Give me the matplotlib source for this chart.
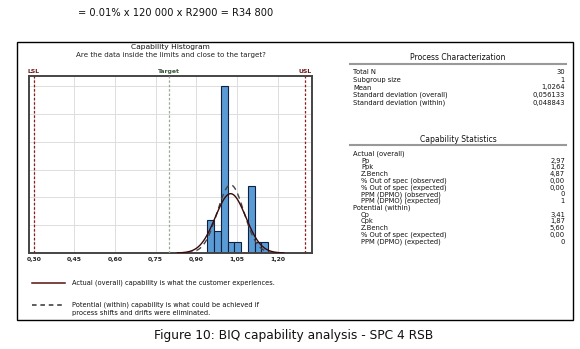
import matplotlib
matplotlib.use("Agg")
import matplotlib.pyplot as plt
import numpy as np
from matplotlib.lines import Line2D
from matplotlib.patches import Rectangle

# ---- data ----
bin_left_edges = [0.94, 0.965, 0.99, 1.015, 1.04, 1.065, 1.09, 1.115, 1.14]
bin_counts = [3, 2, 15, 1, 1, 0, 6, 1, 1]
bin_width = 0.025
LSL, target, USL = 0.30, 0.80, 1.30
n_total = 30
mean = 1.0264
sd_overall = 0.056133
sd_within = 0.048843
xticks = [0.30, 0.45, 0.60, 0.75, 0.90, 1.05, 1.20]
xtick_labels = ["0,30", "0,45", "0,60", "0,75", "0,90", "1,05", "1,20"]

proc_labels = ["Total N", "Subgroup size", "Mean", "Standard deviation (overall)",
               "Standard deviation (within)"]
proc_values = ["30", "1", "1,0264", "0,056133", "0,048843"]

cap_labels = ["Actual (overall)", "Pp", "Ppk", "Z.Bench", "% Out of spec (observed)",
              "% Out of spec (expected)", "PPM (DPMO) (observed)", "PPM (DPMO) (expected)",
              "Potential (within)", "Cp", "Cpk", "Z.Bench", "% Out of spec (expected)",
              "PPM (DPMO) (expected)"]
cap_values = ["", "2,97", "1,62", "4,87", "0,00", "0,00", "0", "1",
              "", "3,41", "1,87", "5,60", "0,00", "0"]
cap_is_header = [True, False, False, False, False, False, False, False,
                 True, False, False, False, False, False]

plt.rcParams['font.family'] = ['DejaVu Sans']

W, H = 580, 349
fig = plt.figure(figsize=(W / 100, H / 100), dpi=100)


def px(x, y):
    return x / W, 1 - y / H


# top text
fig.text(*px(78, 13), "= 0.01% x 120 000 x R2900 = R34 800", fontsize=7.1,
         ha="left", va="center", color="#111111")

# outer box
fig.add_artist(Rectangle(px(16.5, 320), (573 - 16.5) / W, (320 - 42) / H,
                         transform=fig.transFigure, fill=False, lw=1.0, ec="black"))

# histogram axes
l, r, t, b = 29, 312, 76, 253
ax = fig.add_axes([l / W, 1 - b / H, (r - l) / W, (b - t) / H])
ax.set_xlim(0.282, 1.327)
ax.set_ylim(0, 15.9)
ax.set_xticks(xticks)
ax.set_xticklabels(xtick_labels, fontsize=4.4, fontweight="bold", color="#222222")
ax.set_yticks(np.arange(0, 15.1, 2.5))
ax.set_yticklabels([])
ax.tick_params(axis="both", length=0, pad=3)
ax.grid(True, color="#dddddd", lw=0.7)
ax.set_axisbelow(True)
for s in ax.spines.values():
    s.set_color("#444444")
    s.set_linewidth(1.4)

ax.bar(bin_left_edges, bin_counts, width=bin_width, align="edge",
       color="#5b9bd5", edgecolor="#102040", linewidth=0.8, zorder=2)

scale = n_total * bin_width
xs = np.linspace(mean - 3.5 * sd_overall, mean + 3.5 * sd_overall, 300)
y_over = scale * np.exp(-0.5 * ((xs - mean) / sd_overall) ** 2) / (sd_overall * np.sqrt(2 * np.pi))
xw = np.linspace(mean - 3.5 * sd_overall, mean + 3.5 * sd_overall, 300)
y_with = scale * np.exp(-0.5 * ((xw - mean) / sd_within) ** 2) / (sd_within * np.sqrt(2 * np.pi))
ax.plot(xw, y_with, color="#444444", lw=1.0, ls=(0, (4, 3)), zorder=3)
ax.plot(xs, y_over, color="#3a0a0a", lw=1.0, zorder=4)

ax.axvline(LSL, color="#8b1a1a", lw=0.9, ls=(0, (2, 1.5)), zorder=3)
ax.axvline(USL, color="#8b1a1a", lw=0.9, ls=(0, (2, 1.5)), zorder=3)
ax.axvline(target, color="#99aa99", lw=0.9, ls=(0, (2, 1.5)), zorder=3)

ax.text(LSL, 1.01, "LSL", transform=ax.get_xaxis_transform(), ha="center", va="bottom",
        fontsize=4.4, fontweight="bold", color="#6b1515")
ax.text(USL, 1.01, "USL", transform=ax.get_xaxis_transform(), ha="center", va="bottom",
        fontsize=4.4, fontweight="bold", color="#6b1515")
ax.text(target, 1.01, "Target", transform=ax.get_xaxis_transform(), ha="center", va="bottom",
        fontsize=4.4, fontweight="bold", color="#3a5a3a")

fig.text(*px(170, 47), "Capability Histogram", fontsize=5.4, ha="center", va="center",
         color="#111111")
fig.text(*px(171, 55), "Are the data inside the limits and close to the target?",
         fontsize=5.1, ha="center", va="center", color="#222222")

# legend
fig.add_artist(Line2D([px(32, 0)[0], px(65, 0)[0]], [px(0, 283)[1]] * 2,
                      color="#5a1010", lw=1.1, transform=fig.transFigure))
fig.text(*px(72, 283), "Actual (overall) capability is what the customer experiences.",
         fontsize=4.75, ha="left", va="center", color="#111111")
fig.add_artist(Line2D([px(32, 0)[0], px(65, 0)[0]], [px(0, 304.5)[1]] * 2,
                      color="#333333", lw=1.1, ls=(0, (3, 2.5)), transform=fig.transFigure))
fig.text(*px(72, 304.5), "Potential (within) capability is what could be achieved if",
         fontsize=4.75, ha="left", va="center", color="#111111")
fig.text(*px(72, 312.5), "process shifts and drifts were eliminated.",
         fontsize=4.75, ha="left", va="center", color="#111111")

# right panel
fs = 4.9
fig.text(*px(458, 58), "Process Characterization", fontsize=5.5, ha="center", va="center",
         color="#111111")
fig.add_artist(Line2D([px(350, 0)[0], px(566, 0)[0]], [px(0, 63.5)[1]] * 2,
                      color="#999999", lw=1.5, transform=fig.transFigure))
for i, (lab, val) in enumerate(zip(proc_labels, proc_values)):
    y = 72.3 + i * 7.6
    fig.text(*px(353, y), lab, fontsize=fs, ha="left", va="center", color="#111111")
    fig.text(*px(565, y), val, fontsize=fs, ha="right", va="center", color="#111111")

fig.text(*px(458, 139), "Capability Statistics", fontsize=5.5, ha="center", va="center",
         color="#111111")
fig.add_artist(Line2D([px(350, 0)[0], px(566, 0)[0]], [px(0, 145)[1]] * 2,
                      color="#999999", lw=1.5, transform=fig.transFigure))
for i, (lab, val, hdr) in enumerate(zip(cap_labels, cap_values, cap_is_header)):
    y = 154 + i * 6.75
    x0 = 353 if hdr else 361
    fig.text(*px(x0, y), lab, fontsize=fs, ha="left", va="center", color="#111111")
    if val:
        fig.text(*px(565, y), val, fontsize=fs, ha="right", va="center", color="#111111")

# caption
fig.text(*px(294, 335.5), "Figure 10: BIQ capability analysis - SPC 4 RSB", fontsize=8.8,
         ha="center", va="center", color="#111111")

fig.savefig("out.png", dpi=100)
